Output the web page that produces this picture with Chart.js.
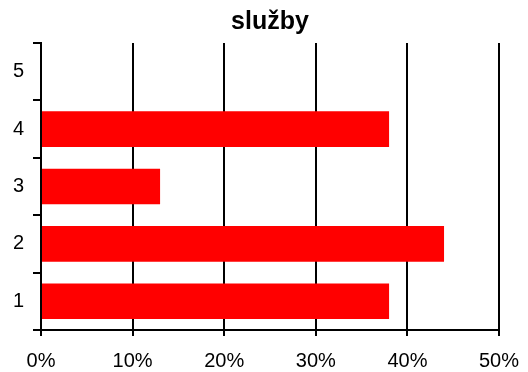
<!DOCTYPE html>
<html>
<head>
<meta charset="utf-8">
<script src="https://cdn.jsdelivr.net/npm/chart.js@4/dist/chart.umd.min.js"></script>
<style>
    html, body { margin: 0; padding: 0; background: #fff; }
    #wrap { width: 528px; height: 372px; }
</style>
</head>
<body>
<div id="wrap"><canvas id="sluzby"></canvas></div>
<script>
const categories = ['1', '2', '3', '4', '5'];
const shares = [38, 44, 13, 38, 0];
const percentTicks = [0, 10, 20, 30, 40, 50];

const ctx = document.getElementById('sluzby').getContext('2d');

new Chart(ctx, {
    type: 'bar',
    data: {
        labels: categories,
        datasets: [{
            label: 'služby',
            data: shares,
            backgroundColor: '#ff0000',
            borderWidth: 0,
            barPercentage: 0.62,
            categoryPercentage: 1
        }]
    },
    options: {
        indexAxis: 'y',
        responsive: true,
        maintainAspectRatio: false,
        animation: false,
        layout: { padding: { left: 0, right: 29, top: 0, bottom: 0 } },
        plugins: {
            legend: { display: false },
            tooltip: { enabled: false },
            title: {
                display: true,
                text: 'služby',
                color: '#000',
                // centred over the plot area, not the whole canvas
                fullSize: false,
                font: { family: 'Liberation Sans, Arial, sans-serif', size: 25, weight: 'bold' },
                padding: { top: 7, bottom: 6 }
            }
        },
        scales: {
            x: {
                min: 0,
                max: 50,
                afterBuildTicks: (scale) => {
                    scale.ticks = percentTicks.map(v => ({ value: v }));
                },
                afterFit: (scale) => {
                    scale.height = 42;
                    // the layout padding already leaves room for the "50%" label
                    scale.paddingLeft = 0;
                    scale.paddingRight = 0;
                },
                grid: { color: '#000', lineWidth: 2, tickLength: 6 },
                border: { color: '#000', width: 2 },
                ticks: {
                    color: '#000',
                    padding: 13,
                    maxRotation: 0,
                    font: { family: 'Liberation Sans, Arial, sans-serif', size: 20 },
                    callback: (v) => v + '%'
                }
            },
            y: {
                reverse: true,
                offset: true,
                afterFit: (scale) => { scale.width = 41; },
                grid: { offset: true, drawOnChartArea: false, color: '#000', lineWidth: 2, tickLength: 8 },
                border: { color: '#000', width: 2 },
                ticks: {
                    color: '#000',
                    padding: 9,
                    font: { family: 'Liberation Sans, Arial, sans-serif', size: 20 }
                }
            }
        }
    }
});
</script>
</body>
</html>
